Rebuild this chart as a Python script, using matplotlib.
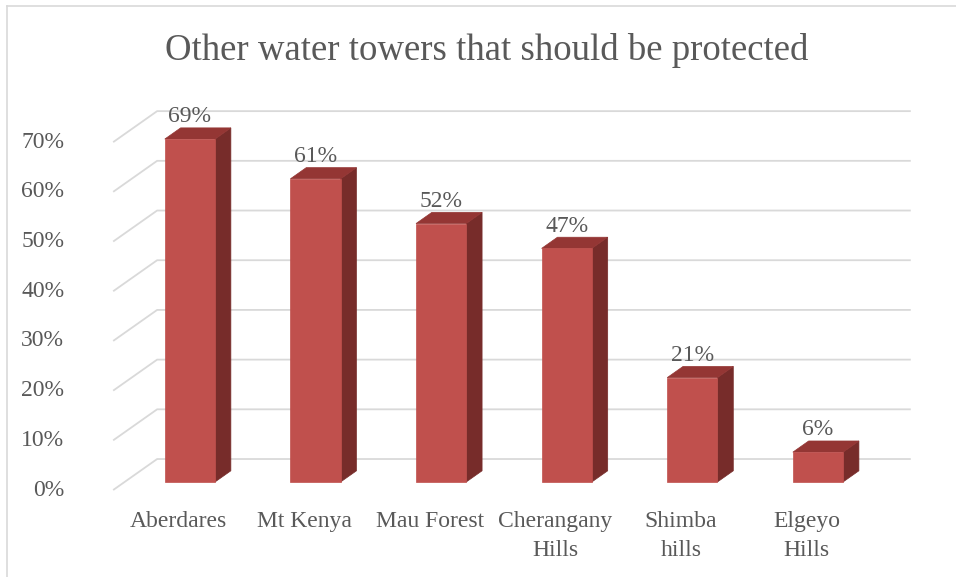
import matplotlib.pyplot as plt
from matplotlib.patches import Polygon
from matplotlib.lines import Line2D

plt.rcParams['font.family'] = ['Liberation Serif', 'DejaVu Serif']

title = "Other water towers that should be protected"
categories = ["Aberdares", "Mt Kenya", "Mau Forest", "Cherangany\nHills",
              "Shimba\nhills", "Elgeyo\nHills"]
values = [69, 61, 52, 47, 21, 6]
yticks = [0, 10, 20, 30, 40, 50, 60, 70]

FRONT = "#C0504D"
TOP = "#943634"
SIDE = "#772C2A"
GRID = "#D9D9D9"
TEXT = "#595959"

# oblique projection: one unit of depth shifts by (DX categories, DY percent)
DX = 0.35
DY = 6.24
bar_w = 0.40
d0, d1 = 0.26, 0.62   # front and back depth of each bar
x_lo, x_hi = -0.52, 5.48


def proj(x, y, d):
    return (x + DX * d, y + DY * d)


fig = plt.figure(figsize=(9.56, 5.77), dpi=100)
ax = fig.add_axes([0, 0, 1, 1])
ax.set_xlim(-1.421, 6.19)
ax.set_ylim(-17.5, 98.6)
ax.axis("off")

# walls: left side diagonals and back horizontal gridlines
for t in yticks:
    xa, ya = proj(x_lo, t, 0)
    xb, yb = proj(x_lo, t, 1)
    xc, yc = proj(x_hi, t, 1)
    ax.plot([xa, xb, xc], [ya, yb, yc], color=GRID, lw=1.3,
            solid_capstyle="butt", zorder=1)
    ax.text(-0.91, t, f"{t}%", ha="right", va="center",
            fontsize=17, color=TEXT)

for i, (v, lab) in enumerate(zip(values, categories)):
    xl = i - bar_w / 2
    xr = i + bar_w / 2
    front = [proj(xl, 0, d0), proj(xr, 0, d0), proj(xr, v, d0), proj(xl, v, d0)]
    side = [proj(xr, 0, d0), proj(xr, 0, d1), proj(xr, v, d1), proj(xr, v, d0)]
    top = [proj(xl, v, d0), proj(xr, v, d0), proj(xr, v, d1), proj(xl, v, d1)]
    ax.add_patch(Polygon(side, closed=True, fc=SIDE, ec=SIDE, lw=0.5, zorder=2))
    ax.add_patch(Polygon(top, closed=True, fc=TOP, ec=TOP, lw=0.5, zorder=2))
    ax.add_patch(Polygon(front, closed=True, fc=FRONT, ec=FRONT, lw=0.5, zorder=3))

    lx, ly = proj(i, v, d1)
    ax.text(i + DX * d0, ly + 0.1, f"{v}%", ha="center", va="bottom",
            fontsize=17, color=TEXT, zorder=4)
    ax.text(i, -4.3, lab, ha="center", va="top", fontsize=17,
            color=TEXT, linespacing=1.45)

fig.text(0.509, 0.912, title, ha="center", va="center",
         fontsize=26.5, color=TEXT)

# chart area frame (left and top edges)
fig.add_artist(Line2D([7 / 956, 7 / 956], [0, 1 - 6 / 577],
                      color=GRID, lw=1.2, transform=fig.transFigure))
fig.add_artist(Line2D([7 / 956, 1], [1 - 6 / 577, 1 - 6 / 577],
                      color=GRID, lw=1.2, transform=fig.transFigure))

fig.savefig("out.png", dpi=100)
